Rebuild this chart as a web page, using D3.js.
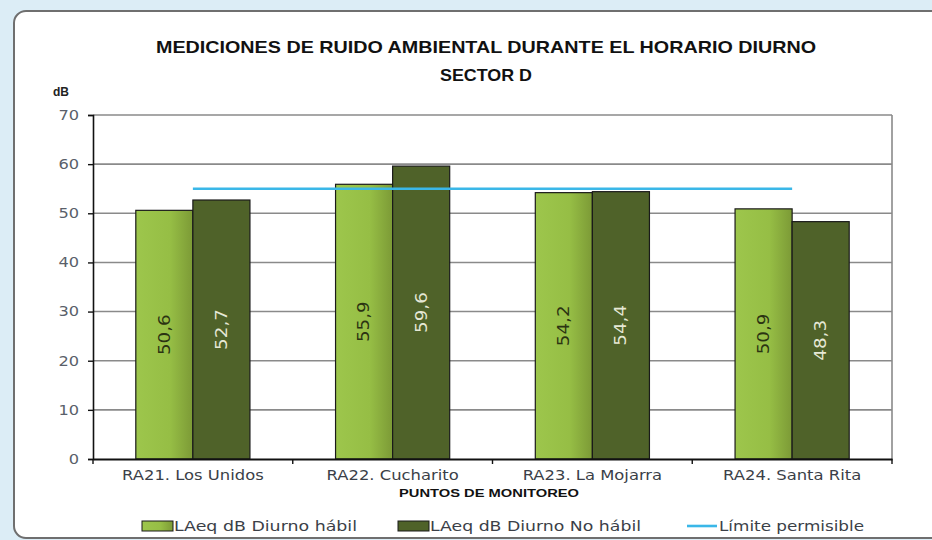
<!DOCTYPE html>
<html>
<head>
<meta charset="utf-8">
<script src="https://cdn.jsdelivr.net/npm/d3@7"></script>
<style>
  html, body { margin: 0; padding: 0; background: #dcedf6; overflow: hidden; }
  svg { display: block; }
</style>
</head>
<body>
<div id="chart"></div>
<script>
// Monitoring points and daytime noise levels (dB)
const categories = ["RA21. Los Unidos", "RA22. Cucharito", "RA23. La Mojarra", "RA24. Santa Rita"];
const habil = [50.6, 55.9, 54.2, 50.9];
const noHabil = [52.7, 59.6, 54.4, 48.3];
const limite = [55, 55, 55, 55];
const seriesNames = ["LAeq dB Diurno hábil", "LAeq dB Diurno No hábil", "Límite permisible"];
const yTicks = [0, 10, 20, 30, 40, 50, 60, 70];

const W = 932, H = 540;
const margin = { left: 93, right: 40, top: 115, bottom: 81 };
const font = "'DejaVu Sans', 'Open Sans', sans-serif";

// Widen text horizontally by a factor (wide geometric face look)
function stretch(sel, factor) {
  sel.each(function () {
    const len = this.getComputedTextLength();
    d3.select(this).attr("textLength", len * factor).attr("lengthAdjust", "spacingAndGlyphs");
  });
}

const svg = d3.select("#chart").append("svg")
  .attr("width", W).attr("height", H);

// Light bar shading
const defs = svg.append("defs");
const grad = defs.append("linearGradient").attr("id", "lightGrad")
  .attr("x1", "0%").attr("x2", "100%").attr("y1", "0%").attr("y2", "0%");
grad.append("stop").attr("offset", "0%").attr("stop-color", "#9dc64c");
grad.append("stop").attr("offset", "60%").attr("stop-color", "#96be45");
grad.append("stop").attr("offset", "100%").attr("stop-color", "#7c9a36");

// White panel, open on the right (continues past the page edge)
const px = 14, py = 11, pr = 12, pb = 538;
svg.append("rect")
  .attr("x", px).attr("y", py).attr("width", W - px + 20).attr("height", pb - py)
  .attr("rx", pr).attr("fill", "#ffffff");
const border = d3.path();
border.moveTo(W + 5, py);
border.lineTo(px + pr, py);
border.arcTo(px, py, px, py + pr, pr);
border.lineTo(px, pb - pr);
border.arcTo(px, pb, px + pr, pb, pr);
border.lineTo(W + 5, pb);
svg.append("path").attr("d", border.toString())
  .attr("fill", "none").attr("stroke", "#6f6f6f").attr("stroke-width", 2);

const x0 = d3.scaleBand().domain(categories)
  .range([margin.left, W - margin.right]).paddingInner(0).paddingOuter(0);
const groupPad = 1.5 / 3.5; // gap between groups relative to band
const x1 = d3.scaleBand().domain([0, 1])
  .range([0, x0.bandwidth() * (1 - groupPad)]);
const y = d3.scaleLinear().domain([0, 70]).range([H - margin.bottom, margin.top]);

const plotL = margin.left, plotR = W - margin.right;

// Gridlines
svg.append("g").selectAll("line").data(yTicks.filter(d => d > 0)).join("line")
  .attr("x1", plotL).attr("x2", plotR)
  .attr("y1", d => y(d)).attr("y2", d => y(d))
  .attr("stroke", "#8a8a8a").attr("stroke-width", 1.6);

// Right border of plot area
svg.append("line")
  .attr("x1", plotR).attr("x2", plotR).attr("y1", y(70)).attr("y2", y(0))
  .attr("stroke", "#8a8a8a").attr("stroke-width", 1.6);

// Bars
const groups = svg.append("g").selectAll("g").data(categories).join("g")
  .attr("transform", d => `translate(${x0(d) + x0.bandwidth() * groupPad / 2},0)`);

groups.each(function (c, i) {
  const g = d3.select(this);
  const data = [{ s: 0, v: habil[i] }, { s: 1, v: noHabil[i] }];
  g.selectAll("rect").data(data).join("rect")
    .attr("x", d => x1(d.s))
    .attr("width", x1.bandwidth())
    .attr("y", d => y(d.v))
    .attr("height", d => y(0) - y(d.v))
    .attr("fill", d => d.s === 0 ? "url(#lightGrad)" : "#4f6229")
    .attr("stroke", "#1a1a1a").attr("stroke-width", 1.2);

  const lbl = g.selectAll("text").data(data).join("text")
    .attr("transform", d => `translate(${x1(d.s) + x1.bandwidth() / 2},${(y(d.v) + y(0)) / 2}) rotate(-90)`)
    .attr("text-anchor", "middle").attr("dy", "0.36em")
    .attr("font-family", font).attr("font-size", 15)
    .attr("fill", d => d.s === 0 ? "#2b3312" : "#e6e8d6")
    .text(d => d.v.toFixed(1).replace(".", ","));
  stretch(lbl, 1.22);
});

// Permissible limit line (from first to last group centre)
const line = d3.line()
  .x((d, i) => x0(categories[i]) + x0.bandwidth() / 2)
  .y(d => y(d));
svg.append("path").datum(limite)
  .attr("d", line).attr("fill", "none")
  .attr("stroke", "#3ab7e8").attr("stroke-width", 2.6);

// Y axis
const yAxis = d3.axisLeft(y).tickValues(yTicks).tickSize(5).tickPadding(9);
const yg = svg.append("g").attr("transform", `translate(${plotL},0)`).call(yAxis);
yg.select(".domain").attr("stroke", "#111").attr("stroke-width", 1.6);
yg.selectAll(".tick line").attr("stroke", "#111").attr("stroke-width", 1.4);
const yl = yg.selectAll(".tick text").attr("font-family", font).attr("font-size", 13.5)
  .attr("fill", "#5a5f6a");
stretch(yl, 1.2);

// X axis
const xAxis = d3.axisBottom(x0).tickSize(0).tickPadding(11);
const xg = svg.append("g").attr("transform", `translate(0,${y(0)})`).call(xAxis);
xg.select(".domain").attr("stroke", "#111").attr("stroke-width", 1.8);
const xl = xg.selectAll(".tick text").attr("font-family", font).attr("font-size", 14)
  .attr("fill", "#3b3f48");
stretch(xl, 1.17);
// Category separator ticks
const sepX = categories.map(c => x0(c)).concat([plotR]);
svg.append("g").selectAll("line").data(sepX).join("line")
  .attr("x1", d => d).attr("x2", d => d)
  .attr("y1", y(0)).attr("y2", y(0) + 5)
  .attr("stroke", "#111").attr("stroke-width", 1.4);

// Titles
const title = svg.append("g").attr("font-family", "'Liberation Sans', Arial, sans-serif")
  .attr("font-weight", "bold").attr("fill", "#111").attr("text-anchor", "middle");
title.append("text").attr("x", 486).attr("y", 53).attr("font-size", 16.5)
  .attr("textLength", 660).attr("lengthAdjust", "spacingAndGlyphs")
  .text("MEDICIONES DE RUIDO AMBIENTAL DURANTE EL HORARIO DIURNO");
title.append("text").attr("x", 486).attr("y", 81).attr("font-size", 16.5)
  .attr("textLength", 92).attr("lengthAdjust", "spacingAndGlyphs")
  .text("SECTOR D");

svg.append("text").attr("x", 53).attr("y", 96)
  .attr("font-family", "'Liberation Sans', Arial, sans-serif").attr("font-weight", "bold")
  .attr("font-size", 12).attr("fill", "#222").text("dB");

svg.append("text").attr("x", 489).attr("y", 497).attr("text-anchor", "middle")
  .attr("font-family", "'Liberation Sans', Arial, sans-serif").attr("font-weight", "bold")
  .attr("font-size", 10.5).attr("fill", "#111")
  .attr("textLength", 180).attr("lengthAdjust", "spacingAndGlyphs")
  .text("PUNTOS  DE  MONITOREO");

// Legend
const legY = 526;
const legend = svg.append("g").attr("font-family", font).attr("font-size", 14).attr("fill", "#3b3f48");
const legItems = [
  { x: 142, type: "bar", fill: "url(#lightGrad)", text: seriesNames[0], w: 183 },
  { x: 398, type: "bar", fill: "#4f6229", text: seriesNames[1], w: 211 },
  { x: 687, type: "line", fill: "#3ab7e8", text: seriesNames[2], w: 145 }
];
legItems.forEach(it => {
  if (it.type === "bar") {
    legend.append("rect").attr("x", it.x).attr("y", legY - 5).attr("width", 31).attr("height", 10)
      .attr("fill", it.fill).attr("stroke", "#1a1a1a").attr("stroke-width", 1);
  } else {
    legend.append("line").attr("x1", it.x).attr("x2", it.x + 30)
      .attr("y1", legY).attr("y2", legY)
      .attr("stroke", it.fill).attr("stroke-width", 2.6);
  }
  legend.append("text").attr("x", it.x + 32).attr("y", legY).attr("dy", "0.36em")
    .attr("textLength", it.w).attr("lengthAdjust", "spacingAndGlyphs").text(it.text);
});
</script>
</body>
</html>
